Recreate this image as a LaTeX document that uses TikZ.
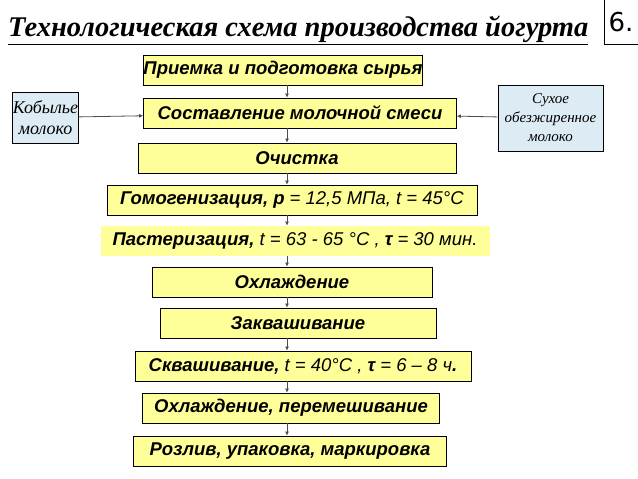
\documentclass[tikz,border=0pt]{standalone}
\usepackage{fontspec}
\setmainfont{Liberation Serif}
\setsansfont{Liberation Sans}
\setmonofont{DejaVu Sans}
\usetikzlibrary{arrows.meta}
\definecolor{stagefill}{RGB}{255,255,153}
\definecolor{sourcefill}{RGB}{221,236,244}

\begin{document}
\begin{tikzpicture}[x=1pt,y=-1pt,
  stage/.style={draw=black,line width=0.8pt,fill=stagefill,minimum height=30pt,inner sep=0pt,
    font=\sffamily\bfseries\itshape\fontsize{18.5}{20}\selectfont},
  source/.style={draw=black,line width=0.8pt,fill=sourcefill,inner sep=0pt,align=center,
    font=\itshape\fontsize{18}{21}\selectfont},
  flow/.style={-{Latex[length=4pt,width=4pt]},gray!60!black,line width=0.8pt}]
  \useasboundingbox (0,0) rectangle (638,479);
  \node[anchor=west,inner sep=0pt] (title) at (8,30) {\fontsize{28.5}{32}\selectfont\bfseries\itshape\underline{Технологическая схема производства йогурта}};
  \node[draw,line width=0.8pt,minimum width=34pt,minimum height=45pt,inner sep=0pt,font=\ttfamily\fontsize{26}{28}\selectfont] (num) at (621,22) {6.};

  \node[stage,minimum width=270pt] (s1) at (283,70) {Приемка и подготовка сырья};
  \node[stage,minimum width=313pt] (s2) at (300,113) {Составление молочной смеси};
  \node[stage,minimum width=318pt] (s3) at (297,158) {Очистка};
  \node[stage,minimum width=370pt] (s4) at (292,200) {Гомогенизация, \textmd{\textbf{р}} \textmd{= 12,5 МПа, \textit{t} = 45°С}};
  \node[stage,draw=none,minimum width=389pt] (s5) at (295,241) {Пастеризация, \textmd{\textit{t} = 63 - 65 °С , \textbf{τ} = 30 мин.}};
  \node[stage,minimum width=280pt] (s6) at (292,282) {Охлаждение};
  \node[stage,minimum width=276pt] (s7) at (298,323) {Заквашивание};
  \node[stage,minimum width=336pt] (s8) at (303,366) {Сквашивание, \textmd{\textit{t} = 40°С , \textbf{τ} = 6 – 8 ч}.};
  \node[stage,minimum width=297pt] (s9) at (291,408) {Охлаждение, перемешивание};
  \node[stage,minimum width=313pt] (s10) at (290,451) {Розлив, упаковка, маркировка};

  \node[source,minimum width=63pt,minimum height=51pt] (mare) at (45.5,117.5) {Кобылье\\молоко};
  \node[source,minimum width=105pt,minimum height=66pt,font=\itshape\fontsize{15}{19}\selectfont] (dry) at (550.5,118) {Сухое\\обезжиренное\\молоко};

  \foreach \a/\b in {s1/s2,s2/s3,s3/s4,s4/s5,s5/s6,s6/s7,s7/s8,s8/s9,s9/s10}
    \draw[flow] (\a.south -| 287,0) -- (\b.north -| 287,0);
  \draw[flow] (mare) -- (s2);
  \draw[flow] (dry) -- (s2);
\end{tikzpicture}
\end{document}
